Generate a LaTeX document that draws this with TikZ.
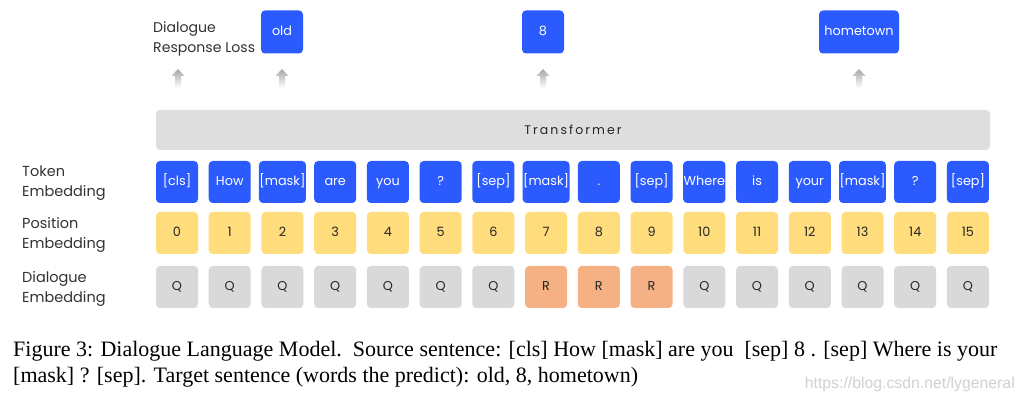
\documentclass[tikz,border=0pt]{standalone}
\usepackage{fontspec}
\setmainfont{Liberation Serif}
\newfontfamily\gothic{Poppins}
\newfontfamily\wmfont{Liberation Sans}
\definecolor{tokblue}{HTML}{2B5BFF}
\definecolor{posyel}{HTML}{FFDC7C}
\definecolor{qgray}{HTML}{D9D9D9}
\definecolor{rorange}{HTML}{F5B183}
\definecolor{trgray}{HTML}{DEDEDE}
\definecolor{arrgray}{HTML}{A6A6A6}
\begin{document}
\begin{tikzpicture}[x=1pt,y=-1pt,
  cellbox/.style={rounded corners=4pt, minimum width=42pt, minimum height=42pt, inner sep=0.5pt, text height=9pt, text depth=2pt, font=\gothic\fontsize{12.8}{14}\selectfont, text=black!85},
  tokbox/.style={cellbox, fill=tokblue, text=white},
  posbox/.style={cellbox, fill=posyel},
  qbox/.style={cellbox, fill=qgray},
  rbox/.style={cellbox, fill=rorange},
  outbox/.style={tokbox, minimum height=43pt},
  lbl/.style={align=left, anchor=west, inner sep=0pt, font=\gothic\fontsize{14.5}{20}\selectfont, text=black!80},
  uparrow/.style={top color=arrgray, bottom color=white, draw=none}
]
\useasboundingbox (0,0) rectangle (1028,403);
\fill[white] (0,0) rectangle (1028,403);

% Transformer
\node[rounded corners=4pt, fill=trgray, minimum width=834pt, minimum height=40pt, font=\gothic\fontsize{12.5}{14}\selectfont, text=black!85] (tr) at (573,130) {T\,r\,a\,n\,s\,f\,o\,r\,m\,e\,r};

% rows
\foreach \t [count=\i from 0] in {[cls],How,[mask],are,you,?,[sep],[mask],.,[sep],Where,is,your,[mask],?,[sep]} {
  \node[tokbox] (t\i) at ({177+52.73*\i},182) {\t};
  \node[posbox] (p\i) at ({177+52.73*\i},233) {\i};
}
\foreach \d/\s [count=\i from 0] in {Q/qbox,Q/qbox,Q/qbox,Q/qbox,Q/qbox,Q/qbox,Q/qbox,R/rbox,R/rbox,R/rbox,Q/qbox,Q/qbox,Q/qbox,Q/qbox,Q/qbox,Q/qbox} {
  \node[\s] (d\i) at ({177+52.73*\i},287) {\d};
}

% left labels
\node[lbl] (lt) at (22,183) {Token\\Embedding};
\node[lbl] (lp) at (22,234.5) {Position\\Embedding};
\node[lbl] (ld) at (22,289) {Dialogue\\Embedding};

% outputs
\node[lbl, font=\gothic\fontsize{14.1}{19.5}\selectfont] (loss) at (153,39) {Dialogue\\Response Loss};
\node[outbox] (o1) at (282,32) {old};
\node[outbox] (o2) at (543,32) {8};
\node[outbox, minimum width=80pt] (o3) at (859,32) {hometown};

% up arrows
\coordinate (a0) at (178,69);
\coordinate (a1) at (282,69);
\coordinate (a2) at (543,69);
\coordinate (a3) at (859,69);
\foreach \a in {a0,a1,a2,a3} {
  \shade[uparrow] (\a) -- ++(6.5,7) -- ++(-3.5,0) -- ++(0,12) -- ++(-6,0) -- ++(0,-12) -- ++(-3.5,0) -- cycle;
}

% caption
\node[anchor=west, inner sep=0pt, font=\fontsize{22}{26}\selectfont] (cap1) at (13,351) {Figure 3: Dialogue Language Model.\ \ Source sentence: [cls] How [mask] are you\ \ [sep] 8 . [sep] Where is your};
\node[anchor=west, inner sep=0pt, font=\fontsize{22}{26}\selectfont] (cap2) at (13,377) {[mask] ? [sep]. Target sentence (words the predict): old, 8, hometown)};
\node[anchor=east, inner sep=0pt, font=\wmfont\fontsize{15.8}{18}\selectfont, text=black!18] (wm) at (1015,384) {https://blog.csdn.net/lygeneral};
\end{tikzpicture}
\end{document}
